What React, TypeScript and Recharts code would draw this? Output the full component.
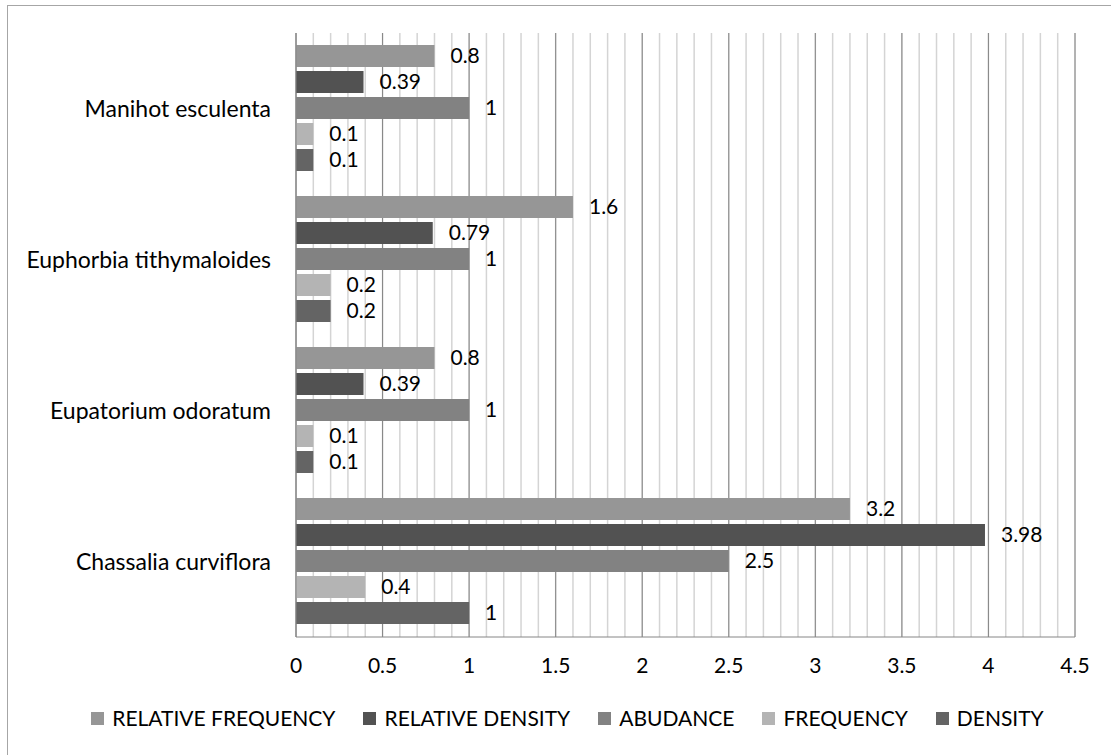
import React from "react";
import {
	BarChart,
	Bar,
	XAxis,
	YAxis,
	CartesianGrid,
	Legend,
	LabelList,
} from "recharts";

// species, listed top to bottom
const species = [
	"Manihot esculenta",
	"Euphorbia tithymaloides",
	"Eupatorium odoratum",
	"Chassalia curviflora",
];

const relativeFrequency = [0.8, 1.6, 0.8, 3.2];
const relativeDensity = [0.39, 0.79, 0.39, 3.98];
const abudance = [1, 1, 1, 2.5];
const frequency = [0.1, 0.2, 0.1, 0.4];
const density = [0.1, 0.2, 0.1, 1];

const majorTicks = [0, 0.5, 1, 1.5, 2, 2.5, 3, 3.5, 4, 4.5];
const minorTicks = [
	0, 0.1, 0.2, 0.3, 0.4, 0.5, 0.6, 0.7, 0.8, 0.9, 1, 1.1, 1.2, 1.3, 1.4, 1.5,
	1.6, 1.7, 1.8, 1.9, 2, 2.1, 2.2, 2.3, 2.4, 2.5, 2.6, 2.7, 2.8, 2.9, 3, 3.1,
	3.2, 3.3, 3.4, 3.5, 3.6, 3.7, 3.8, 3.9, 4, 4.1, 4.2, 4.3, 4.4, 4.5,
];
const X_MAX = 4.5;

const series = [
	{ key: "relFreq", name: "RELATIVE FREQUENCY", color: "#969696" },
	{ key: "relDens", name: "RELATIVE DENSITY", color: "#525252" },
	{ key: "abudance", name: "ABUDANCE", color: "#828282" },
	{ key: "freq", name: "FREQUENCY", color: "#b4b4b4" },
	{ key: "dens", name: "DENSITY", color: "#646464" },
];

const data = species.map((name, i) => ({
	name,
	relFreq: relativeFrequency[i],
	relDens: relativeDensity[i],
	abudance: abudance[i],
	freq: frequency[i],
	dens: density[i],
}));

const FONT = "Lato, 'Open Sans', sans-serif";

// light gridlines every 0.1, placed with the x scale when it is handed over
const minorGrid = (props: any) => {
	const scale = props?.xAxis?.scale;
	if (typeof scale === "function") return minorTicks.map((t) => scale(t));
	const { offset } = props;
	return minorTicks.map((t) => offset.left + (t / X_MAX) * offset.width);
};

const LegendContent = () => (
	<div
		style={{
			display: "flex",
			justifyContent: "center",
			gap: 28,
			fontFamily: FONT,
			fontSize: 21,
			lineHeight: "22px",
			color: "#000",
			paddingLeft: 52,
		}}
	>
		{series.map((s) => (
			<div key={s.key} style={{ display: "flex", alignItems: "center" }}>
				<span
					style={{
						display: "inline-block",
						width: 13,
						height: 13,
						background: s.color,
						marginRight: 8,
					}}
				/>
				<span>{s.name}</span>
			</div>
		))}
	</div>
);

export default function App() {
	return (
		<div
			style={{
				position: "absolute",
				left: 7,
				top: 5,
				width: 1120,
				height: 760,
				border: "1px solid #a6a6a6",
				background: "#fff",
			}}
		>
			<BarChart
				width={1100}
				height={745}
				data={data}
				layout="vertical"
				margin={{ top: 27, right: 33, left: 0, bottom: 22 }}
				barCategoryGap={12}
				barGap={4}
			>
				<CartesianGrid
					horizontal={false}
					stroke="#d4d4d4"
					strokeWidth={1.5}
					verticalCoordinatesGenerator={minorGrid}
				/>
				<CartesianGrid horizontal={false} stroke="#868686" strokeWidth={1} />
				<XAxis
					type="number"
					domain={[0, X_MAX]}
					ticks={majorTicks}
					interval={0}
					axisLine={{ stroke: "#868686" }}
					tickLine={false}
					tickMargin={15}
					height={70}
					tick={{ fill: "#000", fontSize: 21, fontFamily: FONT }}
				/>
				<YAxis
					type="category"
					dataKey="name"
					width={288}
					axisLine={{ stroke: "#868686" }}
					tickLine={false}
					tickMargin={19}
					tick={{ fill: "#000", fontSize: 23, fontFamily: FONT }}
				/>
				{series.map((s) => (
					<Bar
						key={s.key}
						dataKey={s.key}
						name={s.name}
						fill={s.color}
						isAnimationActive={false}
					>
						<LabelList
							dataKey={s.key}
							position="right"
							offset={16}
							fill="#000"
							fontSize={21}
							fontFamily={FONT}
						/>
					</Bar>
				))}
				<Legend verticalAlign="bottom" content={<LegendContent />} />
			</BarChart>
		</div>
	);
}
